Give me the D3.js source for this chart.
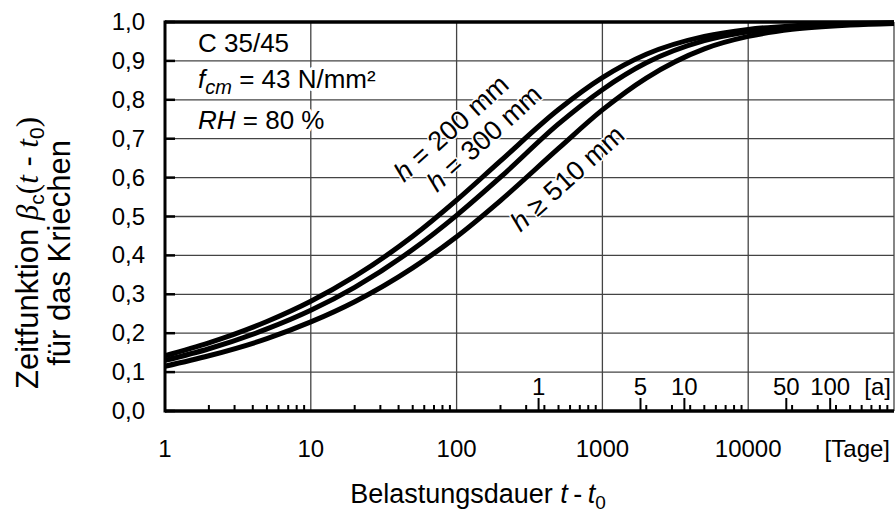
<!DOCTYPE html>
<html>
<head>
<meta charset="utf-8">
<script src="https://cdn.jsdelivr.net/npm/d3@7"></script>
<style>
  body { margin: 0; background: #fff; }
  text { font-family: "Liberation Sans", Arial, sans-serif; fill: #000; }
  .halo { paint-order: stroke; stroke: #fff; stroke-width: 6px; stroke-linejoin: round; }
  .halo-thin { paint-order: stroke; stroke: #fff; stroke-width: 3px; stroke-linejoin: round; }
</style>
</head>
<body>
<script>
// Belastungsdauer in Tagen (x) and the three creep curves (y)
var days = [1, 2, 5, 10, 20, 50, 100, 200, 500, 1000, 2000, 5000, 10000, 20000, 50000, 100000];
var beta200 = [0.142, 0.175, 0.230, 0.282, 0.346, 0.449, 0.542, 0.643, 0.775, 0.857, 0.917, 0.963, 0.981, 0.990, 0.996, 0.998];
var beta300 = [0.130, 0.160, 0.211, 0.259, 0.318, 0.415, 0.503, 0.601, 0.738, 0.826, 0.895, 0.952, 0.975, 0.987, 0.995, 0.997];
var beta510 = [0.115, 0.142, 0.186, 0.229, 0.281, 0.368, 0.448, 0.541, 0.675, 0.774, 0.856, 0.931, 0.963, 0.981, 0.992, 0.996];

var curveNames = ["h = 200 mm", "h = 300 mm", "h \u2265 510 mm"];

// tick values
var yTicks = [0, 0.1, 0.2, 0.3, 0.4, 0.5, 0.6, 0.7, 0.8, 0.9, 1.0];
var dayTicks = [1, 10, 100, 1000, 10000];
var yearTicks = [1, 5, 10, 50, 100];

var svgWidth = 896;
var svgHeight = 515;

var chartMargin = { top: 22, right: 2, bottom: 104, left: 165 };
var chartWidth = svgWidth - chartMargin.left - chartMargin.right;
var chartHeight = svgHeight - chartMargin.top - chartMargin.bottom;

var svg = d3.select("body")
  .append("svg")
  .attr("width", svgWidth)
  .attr("height", svgHeight);

var chartGroup = svg.append("g")
  .attr("transform", `translate(${chartMargin.left}, ${chartMargin.top})`);

// Scales
var xScale = d3.scaleLog().domain([1, 100000]).range([0, chartWidth]);
var yScale = d3.scaleLinear().domain([0, 1]).range([chartHeight, 0]);

// Grid
chartGroup.append("g")
  .selectAll("line")
  .data(yTicks)
  .enter().append("line")
  .attr("x1", 0).attr("x2", chartWidth)
  .attr("y1", d => yScale(d)).attr("y2", d => yScale(d))
  .attr("stroke", "#444").attr("stroke-width", 1.3);

chartGroup.append("g")
  .selectAll("line")
  .data(dayTicks.concat([100000]))
  .enter().append("line")
  .attr("x1", d => xScale(d)).attr("x2", d => xScale(d))
  .attr("y1", 0).attr("y2", chartHeight)
  .attr("stroke", "#444").attr("stroke-width", 1.3);

// left ticks (inward)
chartGroup.append("g")
  .selectAll("line")
  .data(yTicks)
  .enter().append("line")
  .attr("x1", 0).attr("x2", 10)
  .attr("y1", d => yScale(d)).attr("y2", d => yScale(d))
  .attr("stroke", "#000").attr("stroke-width", 2.5);

// minor log ticks on the bottom
var minor = [];
dayTicks.forEach(function(dec) {
  for (var k = 2; k <= 9; k++) minor.push(dec * k);
});
chartGroup.append("g")
  .selectAll("line")
  .data(minor)
  .enter().append("line")
  .attr("x1", d => xScale(d)).attr("x2", d => xScale(d))
  .attr("y1", chartHeight).attr("y2", chartHeight - 6)
  .attr("stroke", "#000").attr("stroke-width", 2);

// year ticks + labels
chartGroup.append("g")
  .selectAll("line")
  .data(yearTicks)
  .enter().append("line")
  .attr("x1", d => xScale(d * 365)).attr("x2", d => xScale(d * 365))
  .attr("y1", chartHeight).attr("y2", chartHeight - 13)
  .attr("stroke", "#000").attr("stroke-width", 2);

chartGroup.append("g")
  .selectAll("text")
  .data(yearTicks)
  .enter().append("text")
  .attr("x", d => xScale(d * 365))
  .attr("y", chartHeight - 16)
  .attr("text-anchor", "middle")
  .style("font-size", "24px")
  .text(d => d);

chartGroup.append("text")
  .attr("x", chartWidth - 3)
  .attr("y", chartHeight - 16)
  .attr("text-anchor", "end")
  .style("font-size", "24px")
  .text("[a]");

// Curves
var line = d3.line()
  .x((d, i) => xScale(days[i]))
  .y(d => yScale(d))
  .curve(d3.curveMonotoneX);

[beta200, beta300, beta510].forEach(function(series) {
  chartGroup.append("path")
    .datum(series)
    .attr("d", line)
    .attr("fill", "none")
    .attr("stroke", "#000")
    .attr("stroke-width", 5);
});

// frame
chartGroup.append("line")
  .attr("x1", 0).attr("x2", chartWidth).attr("y1", 0).attr("y2", 0)
  .attr("stroke", "#000").attr("stroke-width", 3.5);
chartGroup.append("line")
  .attr("x1", 0).attr("x2", chartWidth).attr("y1", chartHeight).attr("y2", chartHeight)
  .attr("stroke", "#000").attr("stroke-width", 3.5);
chartGroup.append("line")
  .attr("x1", 0).attr("x2", 0).attr("y1", -1.5).attr("y2", chartHeight + 1.5)
  .attr("stroke", "#000").attr("stroke-width", 3);

// Y tick labels
chartGroup.append("g")
  .selectAll("text")
  .data(yTicks)
  .enter().append("text")
  .attr("x", -20)
  .attr("y", d => yScale(d) + 8)
  .attr("text-anchor", "end")
  .style("font-size", "24px")
  .text(d => d3.format(".1f")(d).replace(".", ","));

// X tick labels (days)
chartGroup.append("g")
  .selectAll("text")
  .data(dayTicks)
  .enter().append("text")
  .attr("x", d => xScale(d))
  .attr("y", chartHeight + 46)
  .attr("text-anchor", "middle")
  .style("font-size", "24px")
  .text(d => d);

chartGroup.append("text")
  .attr("x", chartWidth - 4)
  .attr("y", chartHeight + 46)
  .attr("text-anchor", "end")
  .style("font-size", "24px")
  .text("[Tage]");

// X axis title
var xTitle = chartGroup.append("text")
  .attr("x", 313)
  .attr("y", chartHeight + 92)
  .attr("text-anchor", "middle")
  .style("font-size", "27px");
xTitle.append("tspan").text("Belastungsdauer ");
xTitle.append("tspan").style("font-style", "italic").text("t");
xTitle.append("tspan").text("\u2009-\u2009");
xTitle.append("tspan").style("font-style", "italic").text("t");
xTitle.append("tspan").attr("dy", 6).style("font-size", "19px").text("0");

// Y axis title (two lines)
var serif = "'Liberation Serif', serif";
var yTitle1 = svg.append("text")
  .attr("transform", "translate(38, 253) rotate(-90)")
  .attr("text-anchor", "middle")
  .style("font-size", "31px");
yTitle1.append("tspan").text("Zeitfunktion ");
yTitle1.append("tspan").style("font-family", serif).style("font-style", "italic").text("\u03B2");
yTitle1.append("tspan").attr("dy", 6).style("font-size", "21px").text("c");
yTitle1.append("tspan").attr("dy", -6).style("font-family", serif).text("(");
yTitle1.append("tspan").style("font-family", serif).style("font-style", "italic").text("t");
yTitle1.append("tspan").text(" - ");
yTitle1.append("tspan").style("font-family", serif).style("font-style", "italic").text("t");
yTitle1.append("tspan").attr("dy", 6).style("font-size", "21px").text("0");
yTitle1.append("tspan").attr("dy", -6).style("font-family", serif).text(")");

svg.append("text")
  .attr("transform", "translate(70, 253) rotate(-90)")
  .attr("text-anchor", "middle")
  .style("font-size", "31px")
  .text("f\u00FCr das Kriechen");

// Info box
var info = chartGroup.append("g");
info.append("text").attr("class", "halo")
  .attr("x", 33).attr("y", 30)
  .style("font-size", "26px")
  .text("C 35/45");

var fcm = info.append("text").attr("class", "halo")
  .attr("x", 33).attr("y", 66)
  .style("font-size", "26px");
fcm.append("tspan").style("font-style", "italic").text("f");
fcm.append("tspan").attr("dy", 6).style("font-style", "italic").style("font-size", "20px").text("cm");
fcm.append("tspan").attr("dy", -6).text(" = 43 N/mm\u00B2");

var rh = info.append("text").attr("class", "halo")
  .attr("x", 33).attr("y", 107)
  .style("font-size", "26px");
rh.append("tspan").style("font-style", "italic").text("RH");
rh.append("tspan").text(" = 80 %");

// curve labels
var labelPos = [[451, 128], [484, 138], [567, 178]];
curveNames.forEach(function(name, i) {
  var t = svg.append("text").attr("class", "halo-thin")
    .attr("transform", `translate(${labelPos[i][0]}, ${labelPos[i][1]}) rotate(-42)`)
    .attr("text-anchor", "middle")
    .attr("dy", "0.35em")
    .style("font-size", "27px");
  t.append("tspan").style("font-style", "italic").text(name.slice(0, 1));
  t.append("tspan").text(name.slice(1));
});
</script>
</body>
</html>
